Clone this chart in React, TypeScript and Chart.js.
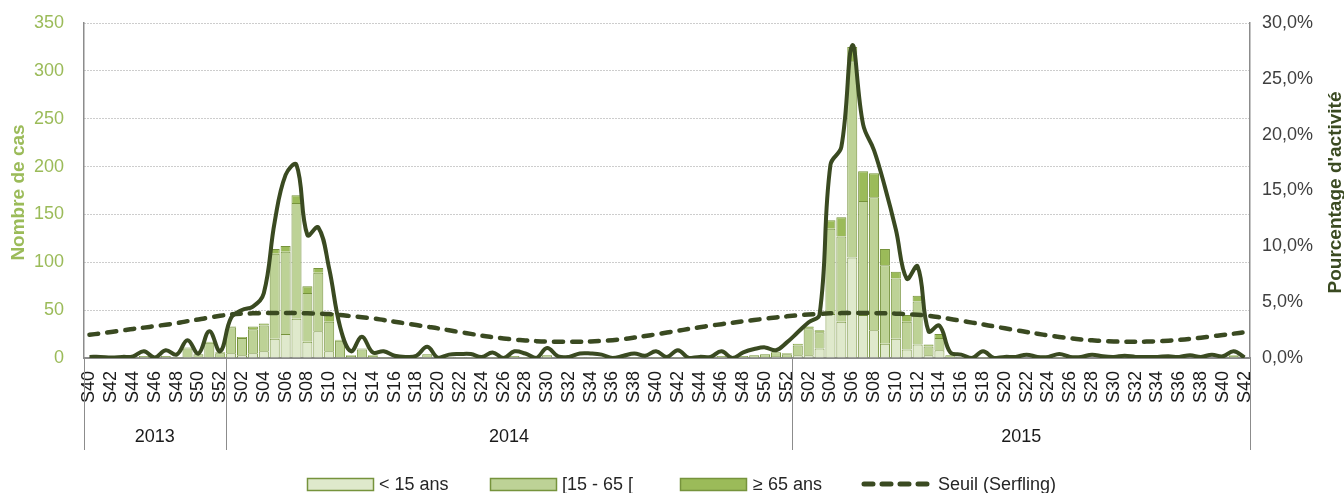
import React, { useEffect, useRef } from 'react';
import { Chart, registerables } from 'chart.js';

Chart.register(...registerables);

const weeks2013 = ['S40', 'S41', 'S42', 'S43', 'S44', 'S45', 'S46', 'S47', 'S48', 'S49', 'S50', 'S51', 'S52'];
const weeks2014 = [
  'S01', 'S02', 'S03', 'S04', 'S05', 'S06', 'S07', 'S08', 'S09', 'S10',
  'S11', 'S12', 'S13', 'S14', 'S15', 'S16', 'S17', 'S18', 'S19', 'S20',
  'S21', 'S22', 'S23', 'S24', 'S25', 'S26', 'S27', 'S28', 'S29', 'S30',
  'S31', 'S32', 'S33', 'S34', 'S35', 'S36', 'S37', 'S38', 'S39', 'S40',
  'S41', 'S42', 'S43', 'S44', 'S45', 'S46', 'S47', 'S48', 'S49', 'S50',
  'S51', 'S52',
];
const weeks2015 = [
  'S01', 'S02', 'S03', 'S04', 'S05', 'S06', 'S07', 'S08', 'S09', 'S10',
  'S11', 'S12', 'S13', 'S14', 'S15', 'S16', 'S17', 'S18', 'S19', 'S20',
  'S21', 'S22', 'S23', 'S24', 'S25', 'S26', 'S27', 'S28', 'S29', 'S30',
  'S31', 'S32', 'S33', 'S34', 'S35', 'S36', 'S37', 'S38', 'S39', 'S40',
  'S41', 'S42',
];
const years = ['2013', '2014', '2015'];
const categories = [...weeks2013, ...weeks2014, ...weeks2015];

// Nombre de cas par classe d'âge
const under15 = [
  0, 0, 0, 0, 0, 0, 0, 0, 0, 0,
  1, 1, 1, 5, 3, 5, 7, 20, 25, 41,
  17, 28, 7, 1, 0, 1, 0, 0, 0, 0,
  0, 1, 0, 0, 0, 0, 0, 0, 0, 0,
  0, 0, 0, 0, 0, 0, 0, 0, 0, 0,
  0, 0, 0, 0, 0, 0, 0, 0, 0, 0,
  0, 0, 1, 2, 1, 3, 3, 10, 46, 38,
  105, 45, 29, 15, 20, 9, 14, 3, 8, 1,
  0, 0, 0, 0, 0, 0, 0, 0, 0, 0,
  0, 0, 0, 0, 0, 0, 0, 0, 0, 0,
  0, 0, 0, 0, 0, 0, 0,
];
const age15to65 = [
  0, 0, 0, 0, 0, 2, 0, 2, 1, 10,
  3, 15, 4, 27, 18, 25, 27, 89, 86, 121,
  51, 61, 31, 17, 2, 8, 2, 1, 0, 0,
  1, 3, 0, 1, 1, 1, 0, 1, 0, 2,
  1, 0, 3, 0, 0, 1, 1, 1, 0, 0,
  1, 0, 1, 0, 1, 0, 0, 0, 2, 0,
  2, 3, 3, 4, 3, 10, 28, 17, 89, 89,
  205, 119, 139, 82, 63, 29, 45, 9, 13, 2,
  1, 0, 1, 0, 0, 0, 0, 0, 0, 1,
  0, 0, 0, 0, 0, 0, 0, 0, 0, 0,
  0, 0, 0, 0, 0, 2, 0,
];
const over65 = [
  0, 0, 0, 0, 0, 0, 0, 0, 0, 1,
  0, 1, 1, 1, 1, 3, 2, 5, 6, 8,
  7, 5, 9, 1, 1, 1, 1, 0, 0, 0,
  0, 0, 0, 0, 0, 0, 0, 0, 0, 0,
  0, 0, 0, 0, 0, 0, 0, 0, 0, 0,
  0, 0, 0, 0, 0, 0, 0, 0, 0, 0,
  0, 0, 0, 0, 1, 2, 2, 2, 9, 20,
  15, 31, 25, 17, 7, 7, 6, 2, 4, 0,
  0, 0, 0, 0, 0, 0, 0, 0, 0, 0,
  0, 0, 0, 0, 0, 0, 0, 0, 0, 0,
  0, 0, 0, 0, 0, 1, 0,
];
// Pourcentage d'activité (%)
const activityPct = [
  0.1, 0.1, 0.05, 0.1, 0.15, 0.6, 0.05, 0.7, 0.3, 1.6,
  0.4, 2.4, 0.6, 3.6, 4.3, 4.6, 5.8, 12.2, 16.4, 17.3,
  11.0, 11.7, 8.0, 2.8, 0.6, 1.9, 0.5, 0.6, 0.2, 0.1,
  0.2, 1.0, 0.0, 0.3, 0.35, 0.35, 0.1, 0.5, 0.0, 0.6,
  0.4, 0.0, 0.9, 0.15, 0.1, 0.4, 0.4, 0.3, 0.0, 0.2,
  0.4, 0.2, 0.6, 0.1, 0.7, 0.0, 0.1, 0.1, 0.6, 0.0,
  0.5, 0.8, 0.95, 0.7, 1.4, 2.3, 3.2, 3.9, 17.3, 18.9,
  28.0, 20.9, 18.6, 15.3, 11.5, 7.1, 8.2, 2.4, 2.9, 0.5,
  0.3, 0.0, 0.6, 0.0, 0.1, 0.1, 0.3, 0.1, 0.1, 0.35,
  0.1, 0.1, 0.3, 0.15, 0.1, 0.2, 0.1, 0.1, 0.1, 0.15,
  0.1, 0.25, 0.1, 0.3, 0.15, 0.6, 0.05,
];
// Seuil (Serfling) (%)
const serflingPct = [
  2.08, 2.2, 2.33, 2.46, 2.6, 2.72, 2.85, 2.98, 3.12, 3.3,
  3.45, 3.62, 3.78, 3.9, 3.97, 4.0, 4.02, 4.03, 4.03, 4.02,
  4.0, 3.97, 3.93, 3.85, 3.75, 3.65, 3.55, 3.4, 3.25, 3.1,
  2.95, 2.8, 2.65, 2.48, 2.32, 2.16, 2.0, 1.87, 1.75, 1.65,
  1.57, 1.51, 1.47, 1.46, 1.46, 1.46, 1.48, 1.53, 1.6, 1.7,
  1.83, 1.97, 2.12, 2.28, 2.44, 2.6, 2.75, 2.9, 3.03, 3.16,
  3.28, 3.4, 3.52, 3.63, 3.73, 3.82, 3.9, 3.96, 4.0, 4.02,
  4.03, 4.03, 4.02, 4.0, 3.97, 3.93, 3.87, 3.78, 3.65, 3.5,
  3.33, 3.17, 3.0, 2.83, 2.66, 2.5, 2.33, 2.17, 2.02, 1.88,
  1.76, 1.66, 1.58, 1.52, 1.48, 1.46, 1.46, 1.47, 1.5, 1.55,
  1.62, 1.71, 1.82, 1.94, 2.06, 2.18, 2.3,
];

const seriesNames = ['< 15 ans', '[15 - 65 [', '≥ 65 ans', 'Seuil (Serfling)'];

const FONT = '"Liberation Sans", Arial, sans-serif';
const C_LIGHT = '#dfe9cc';
const C_MID = '#bdd296';
const C_DARK = '#9bbb59';
const C_BORDER = '#76933c';
const C_LINE = '#3a4a21';
const C_AXIS = '#8c8c8c';

const decorPlugin = {
  id: 'decor',
  afterDraw(chart: any) {
    const { ctx, chartArea, scales } = chart;
    const x = scales.x;
    const n1 = weeks2013.length;
    const n2 = weeks2014.length;
    const bounds = [
      chartArea.left,
      (x.getPixelForValue(n1 - 1) + x.getPixelForValue(n1)) / 2,
      (x.getPixelForValue(n1 + n2 - 1) + x.getPixelForValue(n1 + n2)) / 2,
      chartArea.right,
    ];
    ctx.save();
    ctx.strokeStyle = C_AXIS;
    ctx.lineWidth = 1;
    bounds.forEach((b) => {
      const xx = Math.round(b) + 0.5;
      ctx.beginPath();
      ctx.moveTo(xx, chartArea.bottom);
      ctx.lineTo(xx, 450);
      ctx.stroke();
    });
    ctx.font = `18px ${FONT}`;
    ctx.fillStyle = '#1a1a1a';
    ctx.textAlign = 'center';
    ctx.textBaseline = 'middle';
    years.forEach((y, i) => ctx.fillText(y, (bounds[i] + bounds[i + 1]) / 2, 437));

    // axis titles
    const midY = (chartArea.top + chartArea.bottom) / 2 + 2;
    ctx.font = `bold 19px ${FONT}`;
    ctx.save();
    ctx.translate(19, midY);
    ctx.rotate(-Math.PI / 2);
    ctx.fillStyle = C_DARK;
    ctx.fillText('Nombre de cas', 0, 0);
    ctx.restore();
    ctx.save();
    ctx.translate(1336, midY);
    ctx.rotate(-Math.PI / 2);
    ctx.fillStyle = C_LINE;
    ctx.fillText("Pourcentage d'activité", 0, 0);
    ctx.restore();

    // legend
    const ly = 484;
    ctx.font = `18px ${FONT}`;
    ctx.textAlign = 'left';
    ctx.fillStyle = '#262626';
    const boxes = [
      { x: 307, fill: C_LIGHT, tx: 379 },
      { x: 490, fill: C_MID, tx: 562 },
      { x: 680, fill: C_DARK, tx: 753 },
    ];
    boxes.forEach((b, i) => {
      ctx.fillStyle = b.fill;
      ctx.fillRect(b.x, ly - 6, 66, 12);
      ctx.strokeStyle = C_BORDER;
      ctx.lineWidth = 1.5;
      ctx.strokeRect(b.x + 0.5, ly - 6 + 0.5, 66, 12);
      ctx.fillStyle = '#262626';
      ctx.fillText(seriesNames[i], b.tx, ly + 1);
    });
    ctx.strokeStyle = C_LINE;
    ctx.lineWidth = 5;
    ctx.lineCap = 'round';
    ctx.setLineDash([9, 9]);
    ctx.beginPath();
    ctx.moveTo(864, ly);
    ctx.lineTo(932, ly);
    ctx.stroke();
    ctx.setLineDash([]);
    ctx.fillStyle = '#262626';
    ctx.fillText(seriesNames[3], 938, ly + 1);
    ctx.restore();
  },
};

export default function App() {
  const ref = useRef<HTMLCanvasElement>(null);
  useEffect(() => {
    if (!ref.current) return;
    const barCommon = {
      type: 'bar' as const,
      yAxisID: 'y',
      borderColor: C_BORDER,
      borderWidth: 1,
      barPercentage: 0.92,
      categoryPercentage: 1,
      stack: 'ages',
      order: 2,
    };
    const chart = new Chart(ref.current, {
      type: 'bar',
      data: {
        labels: categories,
        datasets: [
          {
            type: 'line',
            label: "Pourcentage d'activité",
            data: activityPct,
            yAxisID: 'y1',
            borderColor: C_LINE,
            borderWidth: 4,
            pointRadius: 0,
            tension: 0.4,
            fill: false,
            order: 0,
          } as any,
          {
            type: 'line',
            label: seriesNames[3],
            data: serflingPct,
            yAxisID: 'y1',
            borderColor: C_LINE,
            borderWidth: 4.5,
            borderDash: [9, 9],
            borderCapStyle: 'round',
            pointRadius: 0,
            tension: 0.4,
            fill: false,
            order: 1,
          } as any,
          { ...barCommon, label: seriesNames[0], data: under15, backgroundColor: C_LIGHT },
          { ...barCommon, label: seriesNames[1], data: age15to65, backgroundColor: C_MID },
          { ...barCommon, label: seriesNames[2], data: over65, backgroundColor: C_DARK },
        ],
      },
      options: {
        responsive: false,
        animation: false,
        layout: { padding: { top: 23, left: 0, right: 0, bottom: 0 } },
        plugins: { legend: { display: false }, tooltip: { enabled: false } },
        scales: {
          x: {
            type: 'category',
            stacked: true,
            offset: true,
            grid: { display: false, drawTicks: false },
            border: { display: true, color: C_AXIS, width: 2 },
            ticks: {
              autoSkip: false,
              minRotation: 90,
              maxRotation: 90,
              padding: 13,
              color: '#1a1a1a',
              font: { family: FONT, size: 18 },
              callback: (_v: any, i: number) => (i % 2 === 0 ? categories[i] : ''),
            },
            afterFit: (s: any) => {
              s.height = 135;
            },
          },
          y: {
            position: 'left',
            stacked: true,
            min: 0,
            max: 350,
            ticks: {
              stepSize: 50,
              padding: 20,
              color: C_DARK,
              font: { family: FONT, size: 18 },
            },
            grid: { color: '#9a9a9a', lineWidth: 1, drawTicks: false },
            border: { display: true, color: C_AXIS, width: 1.5, dash: [1, 2] },
            afterFit: (s: any) => {
              s.width = 84;
              s.paddingTop = 0;
              s.paddingBottom = 0;
            },
          },
          y1: {
            position: 'right',
            min: 0,
            max: 30,
            ticks: {
              stepSize: 5,
              padding: 12,
              color: '#3f3f3f',
              font: { family: FONT, size: 18 },
              callback: (v: any) => Number(v).toFixed(1).replace('.', ',') + '%',
            },
            grid: { drawOnChartArea: false, drawTicks: false },
            border: { display: true, color: C_AXIS, width: 1.5 },
            afterFit: (s: any) => {
              s.width = 94;
              s.paddingTop = 0;
              s.paddingBottom = 0;
            },
          },
        },
      },
      plugins: [decorPlugin],
    });
    return () => chart.destroy();
  }, []);

  return (
    <div style={{ position: 'absolute', left: 0, top: 0, width: 1344, height: 493, background: '#fff' }}>
      <canvas ref={ref} width={1344} height={493} style={{ display: 'block' }} />
    </div>
  );
}
